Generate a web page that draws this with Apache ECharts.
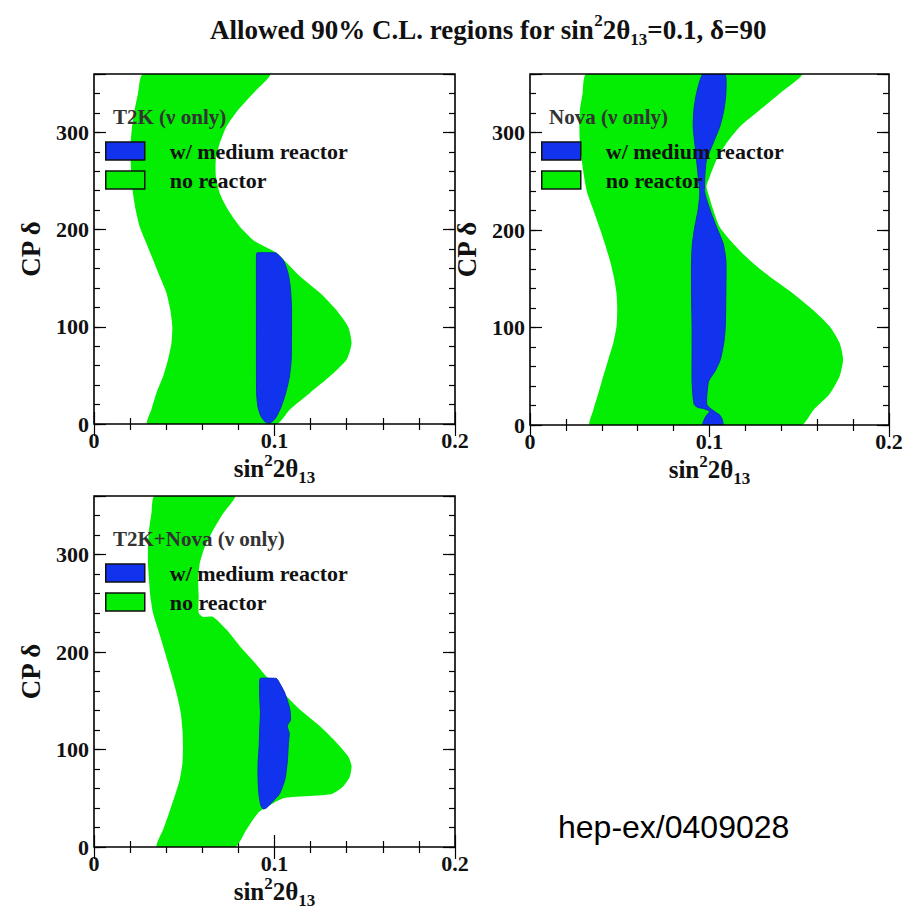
<!DOCTYPE html>
<html><head><meta charset="utf-8">
<script src="https://cdn.jsdelivr.net/npm/echarts@6/dist/echarts.min.js"></script>
<style>html,body{margin:0;padding:0;background:#fff}#c{width:918px;height:910px}</style>
</head><body><div id="c"></div>
<script>
// ---- data: boundary points [sin^2 2theta13, CP delta] ----
const t2kGreen = [
 [0.0272,360],[0.0244,340],[0.0225,323],[0.0211,306],[0.0203,289],[0.0203,272],[0.0207,255],[0.0216,237],[0.0231,220],[0.0253,203],[0.0290,186],[0.0327,169],[0.0364,152],[0.0401,135],[0.0423,117],[0.0434,100],[0.0429,83],[0.0410,66],[0.0383,49],[0.0346,32],[0.0318,15],[0.0296,0],
 [0.1011,0],[0.1085,15],[0.1196,32],[0.1307,49],[0.1399,66],[0.1427,83],[0.1408,100],[0.1344,117],[0.1251,135],[0.1140,152],[0.1011,176],[0.0891,188],[0.0808,203],[0.0743,220],[0.0697,237],[0.0675,255],[0.0675,272],[0.0697,289],[0.0734,306],[0.0798,323],[0.0881,340],[0.0974,360]
];
const t2kBlue = [
 [0.0900,174],[0.0903,176],[0.1008,176],[0.1016,175],[0.1050,168],[0.1075,155],[0.1088,140],[0.1094,120],[0.1094,90],[0.1092,65],[0.1082,48],[0.1062,32],[0.1035,17],[0.1005,6],[0.0975,1],[0.0950,2],[0.0925,8],[0.0908,18],[0.0901,32],[0.0900,60],[0.0900,120]
];
const novaGreen = [
 [0.0315,360],[0.0293,340],[0.0278,323],[0.0275,306],[0.0278,289],[0.0288,272],[0.0301,255],[0.0319,238],[0.0352,221],[0.0386,203],[0.0417,186],[0.0445,169],[0.0467,152],[0.0482,135],[0.0486,118],[0.0482,101],[0.0464,84],[0.0436,67],[0.0408,50],[0.0380,32],[0.0352,15],[0.0334,0],
 [0.1512,0],[0.1577,15],[0.1670,32],[0.1725,50],[0.1744,67],[0.1725,84],[0.1670,101],[0.1577,118],[0.1465,135],[0.1336,152],[0.1224,169],[0.1132,186],[0.1057,203],[0.1020,221],[0.0992,238],[0.0983,245],[0.1002,255],[0.1039,272],[0.1094,289],[0.1169,306],[0.1280,323],[0.1391,340],[0.1512,360]
];
const novaBlue = [
 [0.0965,360],[0.0928,340],[0.0913,323],[0.0909,306],[0.0918,289],[0.0928,272],[0.0937,255],[0.0946,238],[0.0937,221],[0.0918,203],[0.0905,186],[0.0900,169],[0.0900,135],[0.0903,101],[0.0903,67],[0.0903,45],[0.0908,30],[0.0915,21],[0.0935,18],[0.0965,17],[0.1000,14],[0.0980,9],[0.0965,3],[0.0963,0],
 [0.1074,0],[0.1072,5],[0.1058,10],[0.1035,13],[0.1005,17],[0.0985,21],[0.0985,30],[0.0995,45],[0.1030,55],[0.1060,67],[0.1080,85],[0.1088,101],[0.1091,135],[0.1091,169],[0.1076,186],[0.1039,203],[0.1002,221],[0.0974,238],[0.0974,255],[0.0983,272],[0.1020,289],[0.1057,306],[0.1080,323],[0.1091,340],[0.1085,360]
];
const comboGreen = [
 [0.0336,360],[0.0318,342],[0.0305,325],[0.0299,308],[0.0299,291],[0.0305,274],[0.0312,257],[0.0327,240],[0.0355,223],[0.0383,206],[0.0410,189],[0.0438,171],[0.0462,154],[0.0481,137],[0.0490,120],[0.0493,103],[0.0490,86],[0.0475,69],[0.0447,52],[0.0416,35],[0.0383,18],[0.0349,0],
 [0.0780,0],[0.0845,18],[0.0909,35],[0.0946,40],[0.0992,45],[0.1048,50],[0.1085,51],[0.1251,53],[0.1325,55],[0.1380,62],[0.1417,72],[0.1427,83],[0.1408,93],[0.1344,107],[0.1251,124],[0.1140,141],[0.1048,158],[0.0955,175],[0.0891,189],[0.0808,206],[0.0734,223],[0.0660,236],[0.0604,236],[0.0580,240],[0.0580,257],[0.0577,274],[0.0586,291],[0.0614,308],[0.0660,325],[0.0715,342],[0.0780,360]
];
const comboBlue = [
 [0.0918,171],[0.0921,173],[0.1008,173],[0.1016,172],[0.1057,158],[0.1085,141],[0.1088,130],[0.1070,124],[0.1081,117],[0.1076,103],[0.1070,86],[0.1057,69],[0.1029,55],[0.0992,47],[0.0955,40],[0.0937,39],[0.0924,43],[0.0915,52],[0.0909,69],[0.0909,86],[0.0915,103],[0.0918,120],[0.0922,137],[0.0918,154]
];
const panelTitles = ['T2K (\u03bd only)', 'Nova (\u03bd only)', 'T2K+Nova (\u03bd only)'];
const seriesNames = ['w/ medium reactor', 'no reactor'];
const xTickLabels = [0, 0.1, 0.2];
const yTickLabels = [0, 100, 200, 300];
const xRange = [0, 0.2];
const yRange = [0, 360];

// ---- layout / style ----
const SERIF = '"Liberation Serif", "DejaVu Serif", serif';
const GREEN = '#03ee03', BLUE = '#1233ee', BLUE_EDGE = '#0b28c8';
const grids = [
  {left:94, top:74, width:361, height:350},
  {left:530, top:74, width:359, height:351},
  {left:94, top:496, width:361, height:351}
];
const panels = [
  {green:t2kGreen, blue:t2kBlue},
  {green:novaGreen, blue:novaBlue},
  {green:comboGreen, blue:comboBlue}
];

const tickStyle = {color:'#000', width:1.2};
const xAxes = [], yAxes = [], series = [], legends = [], graphics = [];
const nameRich = {
  a:{fontFamily:SERIF, fontWeight:'bold', fontSize:25, color:'#111', lineHeight:34},
  sup:{fontFamily:SERIF, fontWeight:'bold', fontSize:17, color:'#111', verticalAlign:'top', lineHeight:17},
  sub:{fontFamily:SERIF, fontWeight:'bold', fontSize:17, color:'#111', verticalAlign:'bottom', lineHeight:17}
};

grids.forEach((g, gi) => {
  ['bottom','top'].forEach((pos, k) => {
    xAxes.push({
      gridIndex:gi, type:'value', position:pos, min:xRange[0], max:xRange[1], interval:0.1,
      axisLine:{show:false}, splitLine:{show:false},
      axisTick:{show:true, inside:true, length:12, lineStyle:tickStyle},
      minorTick:{show:true, splitNumber:5, length:6, lineStyle:tickStyle},
      axisLabel:{show:k===0, margin:5, fontFamily:SERIF, fontWeight:'bold', fontSize:22, color:'#111',
        formatter:v => xTickLabels.some(t => Math.abs(t - v) < 1e-9) ? String(+v.toFixed(2)) : ''},
      name: k===0 ? '{a|sin}{sup|2}{a|2\u03b8}{sub|13}' : '',
      nameLocation:'middle', nameGap:21,
      nameTextStyle:{rich:nameRich}
    });
  });
  ['left','right'].forEach((pos, k) => {
    yAxes.push({
      gridIndex:gi, type:'value', position:pos, min:yRange[0], max:yRange[1], interval:20,
      axisLine:{show:false}, splitLine:{show:false},
      axisTick:{show:true, inside:true, length:6, lineStyle:tickStyle},
      axisLabel:{show:k===0, interval:0, margin:5, fontFamily:SERIF, fontWeight:'bold', fontSize:22, color:'#111',
        formatter:v => yTickLabels.includes(v) ? String(v) : ''},
      name: k===0 ? 'CP \u03b4' : '', nameLocation:'middle', nameGap:50,
      nameTextStyle:{fontFamily:SERIF, fontWeight:'bold', fontSize:27, color:'#111'}
    });
    yAxes.push({
      gridIndex:gi, type:'value', position:pos, min:yRange[0], max:yRange[1], interval:100,
      axisLine:{show:false}, splitLine:{show:false},
      axisTick:{show:true, inside:true, length:12, lineStyle:tickStyle},
      axisLabel:{show:false}
    });
  });

  const xi = gi*2, yi = gi*4;
  const poly = (name, pts, fill, stroke, z) => ({
    type:'custom', name, coordinateSystem:'cartesian2d', xAxisIndex:xi, yAxisIndex:yi,
    data:pts, encode:{x:0, y:1}, z, clip:true, silent:true, animation:false,
    itemStyle:{color:fill},
    renderItem:(params, api) => {
      if (params.dataIndex !== 0) return null;
      const points = pts.map(p => api.coord(p));
      return {type:'polygon', shape:{points, smooth:0.2}, style:{fill, stroke, lineWidth:stroke ? 1 : 0}};
    }
  });
  series.push(poly(seriesNames[1], panels[gi].green, GREEN, null, 2));
  series.push(poly(seriesNames[0], panels[gi].blue, BLUE, BLUE_EDGE, 3));
  // frame on top
  series.push({
    type:'custom', name:'frame', coordinateSystem:'cartesian2d', xAxisIndex:xi, yAxisIndex:yi,
    data:[[0,0]], z:6, clip:false, silent:true, animation:false,
    renderItem:(params) => {
      const cs = params.coordSys;
      return {type:'rect', shape:{x:cs.x, y:cs.y, width:cs.width, height:cs.height},
        style:{fill:null, stroke:'#000', lineWidth:1.6}};
    }
  });

  legends.push({
    data:seriesNames, orient:'vertical', left:g.left + 6, top:g.top + 61,
    itemWidth:39, itemHeight:18, itemGap:7, icon:'rect', selectedMode:false, z:10,
    itemStyle:{borderColor:'#111', borderWidth:1.5},
    textStyle:{fontFamily:SERIF, fontWeight:'bold', fontSize:22, color:'#111', lineHeight:18, padding:[0,0,0,20]}
  });
  graphics.push({
    type:'text', left:g.left + 19, top:g.top + 32, z:10,
    style:{text:panelTitles[gi], font:'bold 21px ' + SERIF, fill:'#333'}
  });
});

graphics.push({
  type:'text', left:558, top:811, z:10,
  style:{text:'hep-ex/0409028', font:'32px "Liberation Sans", Arial, sans-serif', fill:'#000'}
});

const chart = echarts.init(document.getElementById('c'), null, {renderer:'svg'});
chart.setOption({
  backgroundColor:'#fff',
  animation:false,
  title:{
    text:'Allowed 90% C.L. regions for sin{sup|2}2\u03b8{sub|13}=0.1, \u03b4=90',
    left:205, top:7,
    textStyle:{fontFamily:SERIF, fontWeight:'bold', fontSize:27, color:'#111', lineHeight:36,
      rich:{
        sup:{fontFamily:SERIF, fontWeight:'bold', fontSize:17, color:'#111', verticalAlign:'top', lineHeight:17},
        sub:{fontFamily:SERIF, fontWeight:'bold', fontSize:17, color:'#111', verticalAlign:'bottom', lineHeight:17}
      }}
  },
  grid:grids.map(g => Object.assign({containLabel:false}, g)),
  xAxis:xAxes, yAxis:yAxes, series, legend:legends, graphic:graphics
});
</script>
</body></html>
